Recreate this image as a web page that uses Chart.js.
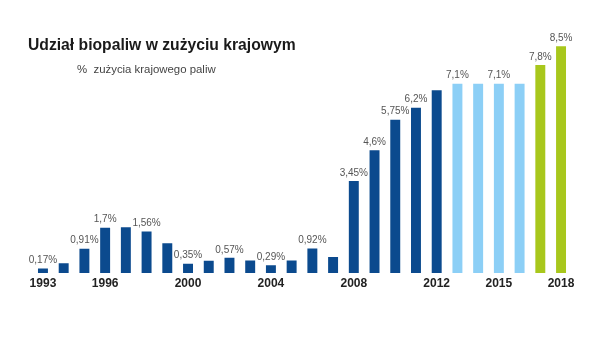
<!DOCTYPE html>
<html lang="pl">
<head>
<meta charset="utf-8">
<title>Udział biopaliw w zużyciu krajowym</title>
<script src="https://cdn.jsdelivr.net/npm/chart.js@4.4.1/dist/chart.umd.min.js"></script>
<style>
  html, body { margin: 0; padding: 0; background: #fff; }
  #wrap { position: relative; width: 599px; height: 337px; }
  #biofuelChart { position: absolute; left: 0; top: 0; }
  .title {
    position: absolute; left: 28px; top: 36px;
    font: bold 15.7px "Liberation Sans", Arial, sans-serif; color: #1a1a1a;
  }
  .subtitle {
    position: absolute; left: 77px; top: 63px;
    font: 11.4px "Liberation Sans", Arial, sans-serif; color: #444;
    white-space: pre;
  }
</style>
</head>
<body>
<div id="wrap">
  <canvas id="biofuelChart" width="599" height="337"></canvas>
  <div class="title">Udział biopaliw w zużyciu krajowym</div>
  <div class="subtitle">%  zużycia krajowego paliw</div>
</div>
<script>
(function () {
  "use strict";

  var years = [
    1993, 1994, 1995, 1996, 1997, 1998, 1999, 2000, 2001, 2002, 2003, 2004, 2005,
    2006, 2007, 2008, 2009, 2010, 2011, 2012, 2013, 2014, 2015, 2016, 2017, 2018,
  ];
  var shares = [
    0.17, 0.37, 0.91, 1.7, 1.72, 1.56, 1.12, 0.35, 0.46, 0.57, 0.47, 0.29, 0.47,
    0.92, 0.6, 3.45, 4.6, 5.75, 6.2, 6.85, 7.1, 7.1, 7.1, 7.1, 7.8, 8.5,
  ];
  // printed value labels; null = no label over that bar
  var valueLabels = [
    "0,17%", null, "0,91%", "1,7%", null, "1,56%", null, "0,35%", null, "0,57%", null, "0,29%", null,
    "0,92%", null, "3,45%", "4,6%", "5,75%", "6,2%", null, "7,1%", null, "7,1%", null, "7,8%", "8,5%",
  ];
  var tickYears = [1993, 1996, 2000, 2004, 2008, 2012, 2015, 2018];

  var darkBlue = "#0b4a8e";
  var lightBlue = "#8ccff6";
  var green = "#a8c71c";

  var barColors = years.map(function (y) {
    if (y >= 2017) return green;
    if (y >= 2013) return lightBlue;
    return darkBlue;
  });

  // draws the value text just above each labelled bar
  var valueLabelPlugin = {
    id: "valueLabels",
    afterDatasetsDraw: function (chart) {
      var ctx = chart.ctx;
      var meta = chart.getDatasetMeta(0);
      ctx.save();
      ctx.font = "10px 'Liberation Sans', Arial, sans-serif";
      ctx.fillStyle = "#555";
      ctx.textAlign = "center";
      ctx.textBaseline = "bottom";
      meta.data.forEach(function (bar, i) {
        if (!valueLabels[i]) return;
        ctx.fillText(valueLabels[i], bar.x, bar.y - 3);
      });
      ctx.restore();
    },
  };

  var ctx = document.getElementById("biofuelChart").getContext("2d");

  new Chart(ctx, {
    type: "bar",
    data: {
      labels: years,
      datasets: [
        {
          data: shares,
          backgroundColor: barColors,
          borderWidth: 0,
          barPercentage: 0.96,
          categoryPercentage: 0.5,
        },
      ],
    },
    options: {
      responsive: false,
      animation: false,
      layout: {
        padding: { top: 33, right: 27.6, bottom: 43.6, left: 32.6 },
      },
      scales: {
        y: {
          display: false,
          min: 0,
          max: 9,
        },
        x: {
          grid: { display: false, drawTicks: false },
          border: { display: false },
          ticks: {
            autoSkip: false,
            maxRotation: 0,
            padding: 3,
            color: "#222",
            font: { family: "'Liberation Sans', Arial, sans-serif", size: 12, weight: "bold" },
            callback: function (value, index) {
              return tickYears.indexOf(years[index]) !== -1 ? String(years[index]) : "";
            },
          },
        },
      },
      plugins: {
        legend: { display: false },
        tooltip: { enabled: false },
      },
    },
    plugins: [valueLabelPlugin],
  });
})();
</script>
</body>
</html>
